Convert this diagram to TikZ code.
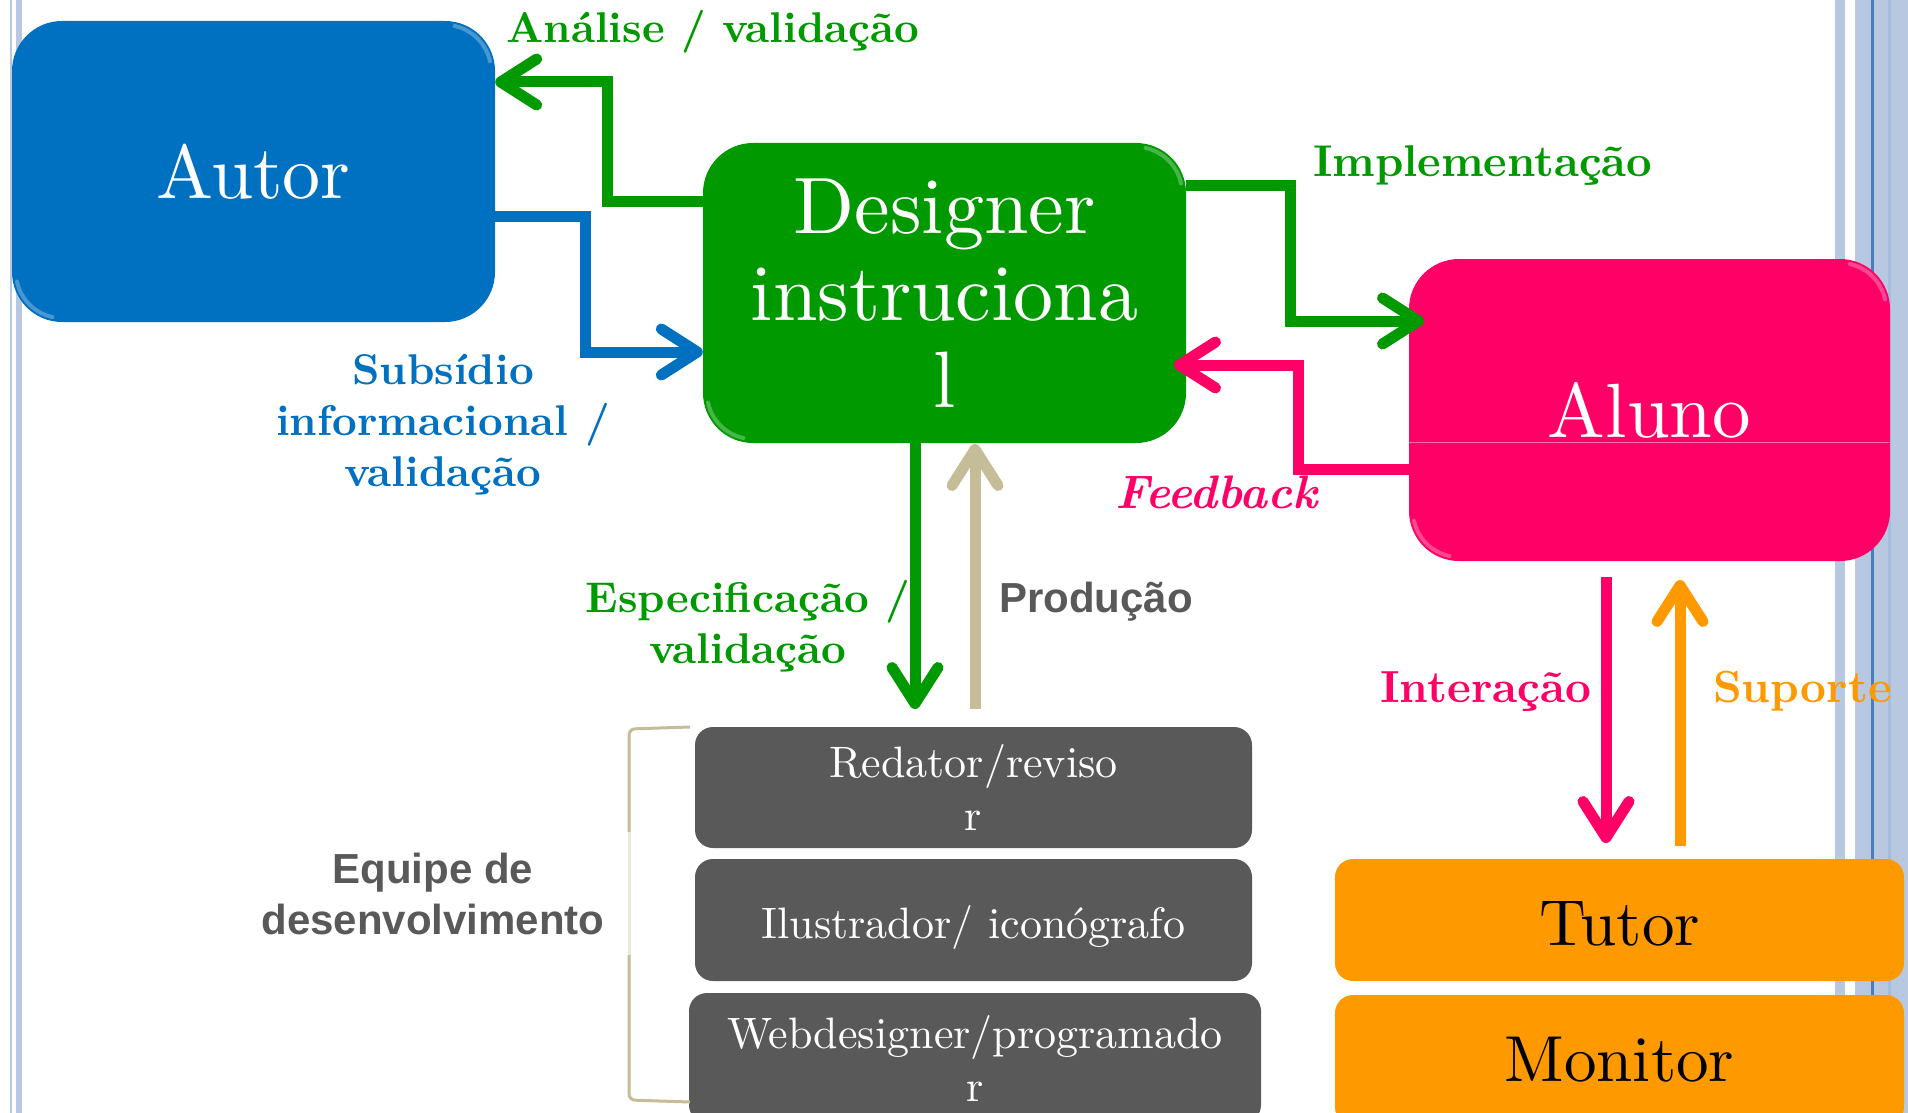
\documentclass[tikz,border=0pt]{standalone}
\usepackage{fontspec}
\setmainfont{lmroman10}[Extension=.otf, UprightFont=*-regular, BoldFont=*-bold, ItalicFont=*-italic, BoldItalicFont=*-bolditalic]
\newfontfamily\lsans{Liberation Sans}
\usetikzlibrary{arrows.meta}
\definecolor{cblue}{HTML}{0070C0}
\definecolor{cgreen}{HTML}{009900}
\definecolor{cpink}{HTML}{FF0066}
\definecolor{corange}{HTML}{FF9900}
\definecolor{cgray}{HTML}{595959}
\definecolor{ctan}{HTML}{C4BD97}
\definecolor{cstripe}{HTML}{B9C8E1}
\definecolor{cstripedark}{HTML}{4A7EBB}
\begin{document}
\begin{tikzpicture}[x=1pt,y=-1pt,
  box/.style={rectangle, rounded corners=#1, inner sep=0pt, align=center, text=white},
  conn/.style={line width=11pt, -{Straight Barb[length=36pt,width=46pt,round]}},
  lab/.style={inner sep=0pt, font=\fontsize{43}{51}\selectfont\bfseries, align=center},
  slab/.style={inner sep=0pt, font=\lsans\fontsize{42}{51}\selectfont\bfseries, align=center, text=cgray},
  gloss/.style={white, opacity=0.28, line width=4pt, line cap=round},
]
\useasboundingbox (0,0) rectangle (1908,1113);
\clip (0,0) rectangle (1908,1113);
\fill[white] (0,0) rectangle (1908,1113);
% page borders
\fill[cstripe] (10,0) rectangle (12,1113);
\fill[cstripe] (16,0) rectangle (22,1113);
\fill[cstripe] (1835,0) rectangle (1845,1113);
\fill[cstripe] (1855,0) rectangle (1908,1113);
\fill[cstripedark] (1871,0) rectangle (1874,1113);
\fill[cstripe!85!cstripedark] (1888,0) rectangle (1891,1113);

% boxes
\node[box=50pt, fill=cblue, minimum width=483pt, minimum height=301pt, font=\fontsize{76}{84}\selectfont] (aut) at (253.5,171.5) {Autor};
\node[box=50pt, fill=cgreen, minimum width=483pt, minimum height=300pt, font=\fontsize{80}{87}\selectfont] (des) at (944.5,293) {Designer\\instruciona\\l};
\node[box=50pt, fill=cpink, minimum width=481pt, minimum height=302pt, font=\fontsize{77}{85}\selectfont] (alu) at (1649.5,410) {Aluno};
\draw[cpink!55!white, line width=1pt] (alu.west |- 0,442) -- (alu.east |- 0,442);
\node[box=18pt, fill=corange, text=black, minimum width=569pt, minimum height=122pt, font=\fontsize{65}{72}\selectfont] (tut) at (1619.5,920) {\raisebox{-4pt}[\height][\depth]{Tutor}};
\node[box=18pt, fill=corange, text=black, minimum width=569pt, minimum height=130pt, font=\fontsize{65}{72}\selectfont] (mon) at (1619.5,1060) {Monitor};
\node[box=18pt, fill=cgray, minimum width=557pt, minimum height=121pt, font=\fontsize{44}{53}\selectfont] (red) at (973.5,787.5) {Redator/reviso\\r};
\node[box=18pt, fill=cgray, minimum width=557pt, minimum height=122pt, font=\fontsize{44}{53}\selectfont] (ilu) at (973.5,920) {\raisebox{-7pt}[\height][\depth]{Ilustrador/ iconógrafo}};
\node[box=18pt, fill=cgray, minimum width=572pt, minimum height=130pt, font=\fontsize{44}{53}\selectfont] (web) at (975,1058) {Webdesigner/programado\\r};

% glossy corner highlights
\draw[gloss] (445,71) ++(-78:46) arc[start angle=-78, end angle=-12, radius=46];
\draw[gloss] (62,272) ++(102:46) arc[start angle=102, end angle=168, radius=46];
\draw[gloss] (1136,193) ++(-78:46) arc[start angle=-78, end angle=-12, radius=46];
\draw[gloss] (753,393) ++(102:46) arc[start angle=102, end angle=168, radius=46];
\draw[gloss] (1840,309) ++(-78:46) arc[start angle=-78, end angle=-12, radius=46];
\draw[gloss] (1459,511) ++(102:46) arc[start angle=102, end angle=168, radius=46];

% bracket
\draw[ctan, line width=3pt, rounded corners=6pt] (690,727) -- (629,729) -- (629,832);
\draw[ctan!35, line width=3pt] (629,832) -- (629,955);
\draw[ctan, line width=3pt, rounded corners=6pt] (629,955) -- (629,1100) -- (690,1102);

% free ends
\coordinate (implend) at (1424,321);
\coordinate (fbend) at (1174,365);
\coordinate (espend) at (915,709);
\coordinate (prodstart) at (975,709);
\coordinate (prodend) at (975,444);
\coordinate (intstart) at (1606,577);
\coordinate (intend) at (1606,843);
\coordinate (supstart) at (1680,846);
\coordinate (supend) at (1680,580);

% connectors
\draw[conn, cgreen] (des.west |- 0,201) -| (607,82) -- (aut.east |- 0,82);
\draw[conn, cblue] (aut.east |- 0,216) -| (585,352) -- (des.west |- 0,352);
\draw[conn, cgreen] (des.east |- 0,185) -| (1290,321) -- (implend);
\draw[conn, cpink] (alu.west |- 0,469) -| (1298,365) -- (fbend);
\draw[conn, cgreen] (espend |- des.south) -- (espend);
\draw[conn, ctan] (prodstart) -- (prodend);
\draw[conn, cpink] (intstart) -- (intend);
\draw[conn, corange] (supstart) -- (supend);

% labels
\node[lab, text=cgreen, anchor=base west] (lanal) at (506,43) {Análise / validação};
\node[lab, text=cgreen, anchor=base west, font=\fontsize{44.5}{51}\selectfont\bfseries] (limpl) at (1313,176) {Implementação};
\node[lab, text=cblue] (lsub) at (443,425) {Subsídio\\informacional /\\validação};
\node[lab, text=cpink, anchor=base west, font=\fontsize{47}{51}\selectfont\bfseries\itshape] (lfeed) at (1115,508) {Feedback};
\node[lab, text=cgreen] (lesp) at (748,626) {Especificação /\\validação};
\node[slab, anchor=base west] (lprod) at (999,612) {Produção};
\node[lab, text=cpink, anchor=base west, font=\fontsize{45}{51}\selectfont\bfseries] (lint) at (1380,702) {Interação};
\node[lab, text=corange, anchor=base west, font=\fontsize{45}{51}\selectfont\bfseries] (lsup) at (1713,702) {Suporte};
\node[slab] (leq) at (433,894) {Equipe de\\desenvolvimento};
\end{tikzpicture}
\end{document}
